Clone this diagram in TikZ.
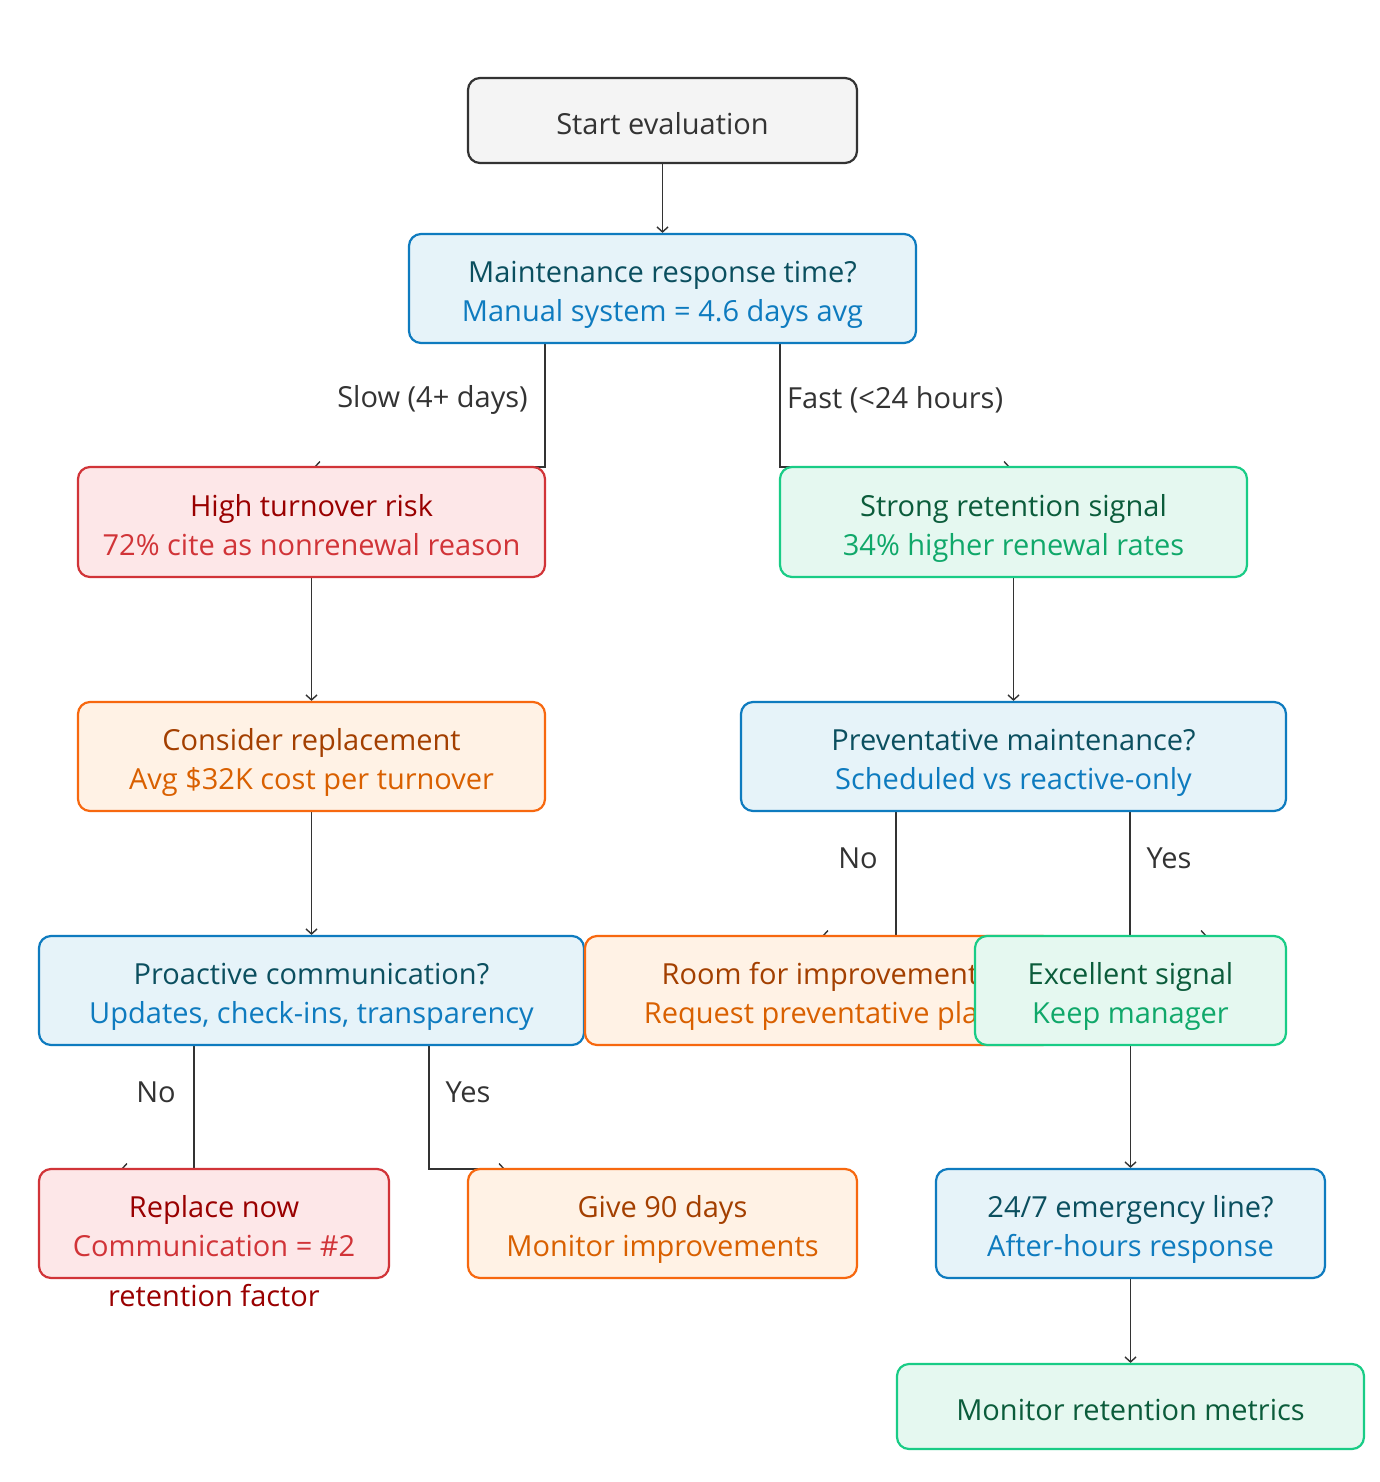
\documentclass[tikz,border=0pt]{standalone}
\usepackage{fontspec}
\setmainfont{Open Sans}
\usetikzlibrary{arrows.meta}
\pgfdeclarelayer{bg}
\pgfsetlayers{bg,main}
\definecolor{ink}{HTML}{333333}
\definecolor{grayfill}{HTML}{F4F4F4}
\definecolor{blueb}{HTML}{0E7BBF}
\definecolor{bluef}{HTML}{E6F3F9}
\definecolor{bluet}{HTML}{0B4F5F}
\definecolor{redb}{HTML}{D13438}
\definecolor{redf}{HTML}{FDE7E8}
\definecolor{redt}{HTML}{990000}
\definecolor{greenb}{HTML}{19CC86}
\definecolor{greenf}{HTML}{E5F8F0}
\definecolor{greent}{HTML}{0B5C3B}
\definecolor{greens}{HTML}{10A86A}
\definecolor{orangeb}{HTML}{F7680F}
\definecolor{orangef}{HTML}{FFF2E5}
\definecolor{oranget}{HTML}{A33F00}
\definecolor{oranges}{HTML}{D96000}
\newcommand\bxs{\rule[-8.4pt]{0pt}{44pt}}
\newcommand\bxt{\rule[-8.4pt]{0pt}{30pt}}
\begin{document}
\begin{tikzpicture}[x=1pt,y=-1pt,
  box/.style={draw, rounded corners=12pt, line width=2.2pt, inner sep=0pt, align=center,
    font=\fontsize{29}{39}\selectfont},
  graybox/.style={box, draw=ink, fill=grayfill, text=ink},
  bluebox/.style={box, draw=blueb, fill=bluef},
  redbox/.style={box, draw=redb, fill=redf},
  greenbox/.style={box, draw=greenb, fill=greenf},
  orangebox/.style={box, draw=orangeb, fill=orangef},
  conn/.style={draw=ink, line width=1.5pt, -{Straight Barb[length=5pt,width=11pt,line width=1.4pt]}},
  lab/.style={text=ink, font=\fontsize{29}{39}\selectfont, inner sep=0pt}
]
\useasboundingbox (0,0) rectangle (1380,1482);

\node[graybox, minimum width=389, minimum height=85] (start) at (662.5,120.5) {\bxs Start evaluation};
\node[bluebox, minimum width=507, minimum height=109] (maint) at (662.5,288.5)
  {\bxs\textcolor{bluet}{Maintenance response time?}\\\bxt\textcolor{blueb}{Manual system = 4.6 days avg}};
\node[redbox, minimum width=467, minimum height=110] (high) at (311.5,522)
  {\bxs\textcolor{redt}{High turnover risk}\\\bxt\textcolor{redb}{72\% cite as nonrenewal reason}};
\node[greenbox, minimum width=467, minimum height=110] (strong) at (1013.5,522)
  {\bxs\textcolor{greent}{Strong retention signal}\\\bxt\textcolor{greens}{34\% higher renewal rates}};
\node[orangebox, minimum width=467, minimum height=109] (consider) at (311.5,756.5)
  {\bxs\textcolor{oranget}{Consider replacement}\\\bxt\textcolor{oranges}{Avg \$32K cost per turnover}};
\node[bluebox, minimum width=545, minimum height=109] (prev) at (1013.5,756.5)
  {\bxs\textcolor{bluet}{Preventative maintenance?}\\\bxt\textcolor{blueb}{Scheduled vs reactive-only}};
\node[bluebox, minimum width=545, minimum height=109] (proact) at (311.5,990.5)
  {\bxs\textcolor{bluet}{Proactive communication?}\\\bxt\textcolor{blueb}{Updates, check-ins, transparency}};
\node[orangebox, minimum width=470, minimum height=109] (room) at (820,990.5)
  {\bxs\textcolor{oranget}{Room for improvement}\\\bxt\textcolor{oranges}{Request preventative plan}};
\node[greenbox, minimum width=311, minimum height=109] (exc) at (1130.5,990.5)
  {\bxs\textcolor{greent}{Excellent signal}\\\bxt\textcolor{greens}{Keep manager}};
\node[redbox, minimum width=350, minimum height=109] (replace) at (214,1223.5)
  {\bxs\textcolor{redt}{Replace now}\\\bxt\textcolor{redb}{Communication = \#2}};
\node[text=redt, font=\fontsize{29}{39}\selectfont, inner sep=0pt] (retf) at (214,1296) {retention factor};
\node[orangebox, minimum width=389, minimum height=109] (give) at (662.5,1223.5)
  {\bxs\textcolor{oranget}{Give 90 days}\\\bxt\textcolor{oranges}{Monitor improvements}};
\node[bluebox, minimum width=389, minimum height=109] (emerg) at (1130.5,1223.5)
  {\bxs\textcolor{bluet}{24/7 emergency line?}\\\bxt\textcolor{blueb}{After-hours response}};
\node[greenbox, minimum width=467, minimum height=85] (mon) at (1130.5,1406.5)
  {\bxs\textcolor{greent}{Monitor retention metrics}};

\node[lab, anchor=east] (lslow) at (528,400) {Slow (4+ days)};
\node[lab, anchor=west] (lfast) at (787,400) {Fast (<24 hours)};
\node[lab] (lno1) at (858,858) {No};
\node[lab] (lyes1) at (1169,858) {Yes};
\node[lab] (lno2) at (156,1092) {No};
\node[lab] (lyes2) at (468,1092) {Yes};

\coordinate (slowS) at (545,343);
\coordinate (fastS) at (780,343);
\coordinate (noS1) at (896,811);
\coordinate (yesS1) at (1130,811);
\coordinate (noS2) at (194,1045);
\coordinate (yesS2) at (429,1045);
\coordinate (slowE) at (314,467);
\coordinate (fastE) at (1010,467);
\coordinate (noE1) at (822,936);
\coordinate (yesE1) at (1207,936);
\coordinate (noE2) at (121,1169);
\coordinate (yesE2) at (505,1169);

\begin{pgfonlayer}{bg}
\fill[white] (0,0) rectangle (1380,1482);
\draw[conn] (start) -- (maint);
\draw[conn] (slowS) |- (slowE);
\draw[conn] (fastS) |- (fastE);
\draw[conn] (high) -- (consider);
\draw[conn] (strong) -- (prev);
\draw[conn] (consider) -- (proact);
\draw[conn] (noS1) |- (noE1);
\draw[conn] (yesS1) |- (yesE1);
\draw[conn] (noS2) |- (noE2);
\draw[conn] (yesS2) |- (yesE2);
\draw[conn] (exc) -- (emerg);
\draw[conn] (emerg) -- (mon);
\end{pgfonlayer}
\end{tikzpicture}
\end{document}
